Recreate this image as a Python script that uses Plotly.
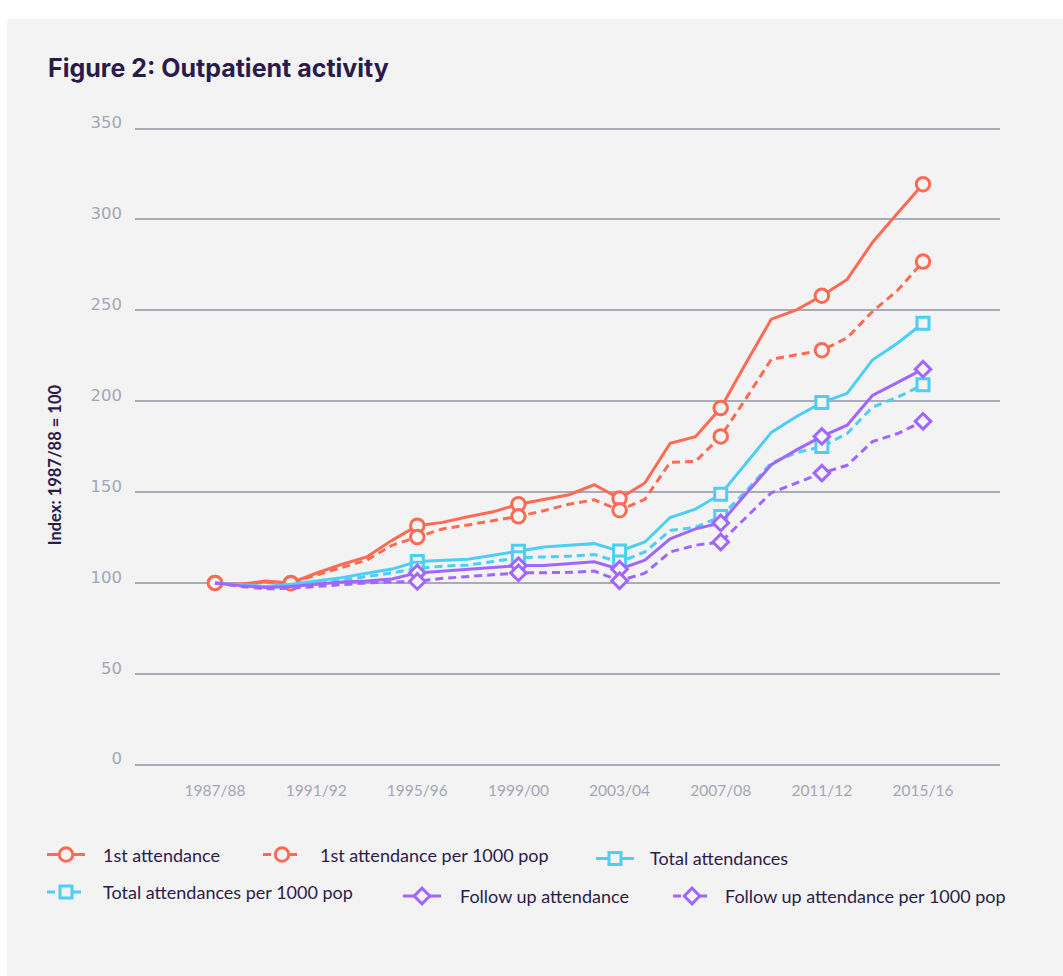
import plotly.graph_objects as go

# ---- data -------------------------------------------------------------
YEARS = [
    "1987/88", "1988/89", "1989/90", "1990/91", "1991/92", "1992/93",
    "1993/94", "1994/95", "1995/96", "1996/97", "1997/98", "1998/99",
    "1999/00", "2000/01", "2001/02", "2002/03", "2003/04", "2004/05",
    "2005/06", "2006/07", "2007/08", "2008/09", "2009/10", "2010/11",
    "2011/12", "2012/13", "2013/14", "2014/15", "2015/16",
]
TICK_YEARS = ["1987/88", "1991/92", "1995/96", "1999/00",
              "2003/04", "2007/08", "2011/12", "2015/16"]
# years that carry a symbol on the lines
RED_MARKED = ["1987/88", "1990/91", "1995/96", "1999/00",
              "2003/04", "2007/08", "2011/12", "2015/16"]
OTHER_MARKED = ["1995/96", "1999/00", "2003/04", "2007/08", "2011/12", "2015/16"]

first_att = [100, 99.2, 101.1, 100, 105.3, 110.1, 114.3, 123.4, 131.5, 133.3,
             136.4, 139.1, 143.3, 146, 148.5, 154, 146.4, 155, 176.8, 180.4,
             196.2, 221, 245.1, 250.2, 258, 267, 287.3, 303.5, 319.4]
first_att_pop = [100, 99, 100.5, 99.8, 104.3, 108.3, 112.5, 120.7, 125.2, 129.7,
                 131.9, 134.2, 136.6, 139.7, 143.3, 145.7, 140, 146, 166.3, 166.8,
                 180.6, 201.5, 223, 225.5, 228, 234.8, 249.3, 261, 276.8]
total_att = [100, 99, 98, 99.3, 101.1, 102.9, 105.3, 107.6, 111.8, 112.3,
             113, 115.2, 117.4, 119.7, 120.7, 121.6, 117.5, 122.5, 136, 140.6,
             148.8, 166, 182.8, 191.6, 199.2, 204.3, 222.6, 232, 242.9]
total_att_pop = [100, 98.5, 97.5, 98.5, 100, 101.5, 103.5, 105.5, 108, 109.2,
                 109.8, 111.6, 113.8, 114.3, 114.7, 115.6, 111.5, 117, 128.8, 130.6,
                 136.5, 150.5, 166, 171.7, 175, 182.2, 196.7, 202.2, 209]
follow_att = [100, 98.5, 97.5, 98, 99.3, 100.5, 101.1, 102.2, 105.5, 106.5,
              107.6, 108.9, 109.5, 109.6, 110.7, 111.6, 107.5, 112.5, 124.3, 129.7,
              133, 148.7, 165, 173.2, 180.6, 186.8, 203.1, 210.3, 217.6]
follow_att_pop = [100, 98, 96.7, 97.1, 98, 99, 100, 100.5, 100.8, 102.5,
                  103.4, 104.3, 105.5, 105.6, 105.8, 106.5, 101.2, 105.3, 117, 120.7,
                  122.5, 136, 149.6, 155, 160.4, 164.7, 177.7, 182.2, 188.9]

SERIES_NAMES = [
    "1st attendance", "1st attendance per 1000 pop", "Total attendances",
    "Total attendances per 1000 pop", "Follow up attendance",
    "Follow up attendance per 1000 pop",
]
SERIES_VALUES = [first_att, first_att_pop, total_att,
                 total_att_pop, follow_att, follow_att_pop]
SERIES_MARKED = [RED_MARKED, RED_MARKED, OTHER_MARKED,
                 OTHER_MARKED, OTHER_MARKED, OTHER_MARKED]
Y_TICKS = [0, 50, 100, 150, 200, 250, 300, 350]

# ---- styling ----------------------------------------------------------
W, H = 1063, 976
BG = "#f3f3f3"
MARKER_FILL = "#f4f4f4"
RED, BLUE, PURPLE = "#ff6a55", "#4dcff5", "#a066ff"
INK = "#2b1b4b"
GREY_TXT = "#a3a7b3"
GRID = "#a9acb8"
FONT = "Lato"
DASH = "8px,5px"

STYLES = [
    dict(color=RED, dash="solid", symbol="circle", size=13.5),
    dict(color=RED, dash=DASH, symbol="circle", size=13.5),
    dict(color=BLUE, dash="solid", symbol="square", size=12),
    dict(color=BLUE, dash=DASH, symbol="square", size=12),
    dict(color=PURPLE, dash="solid", symbol="diamond", size=12),
    dict(color=PURPLE, dash=DASH, symbol="diamond", size=12),
]


def fx(px):
    """page pixel column -> paper fraction"""
    return px / W


def fy(px):
    """page pixel row (from top) -> paper fraction"""
    return 1 - px / H


# plot area in pixels (margins are zero, so paper == page)
PLOT_L, PLOT_R = 135, 1000
Y0_PX, Y350_PX = 762, 118            # pixel rows of the 0 and 350 gridlines
PX_PER_UNIT = (Y0_PX - Y350_PX) / 350.0
Y_PAD = 2.0                          # keeps the edge gridlines drawable
Y_RANGE = [-Y_PAD, 350 + Y_PAD]
PLOT_T = Y350_PX - Y_PAD * PX_PER_UNIT
PLOT_B = Y0_PX + Y_PAD * PX_PER_UNIT
X_PER_YEAR = (923 - 215) / 28.0
X_RANGE = [-(215 - PLOT_L) / X_PER_YEAR, 28 + (PLOT_R - 923) / X_PER_YEAR]

# legend entries: (swatch left x, text left x, row centre y)
LEGEND_POS = [
    (47, 101, 853), (263, 318, 853), (596, 648, 857),
    (47, 101, 891), (403, 458, 895), (673, 723, 895),
]
SWATCH_LEN = 38


def marker_dict(st, fill=MARKER_FILL):
    return dict(symbol=st["symbol"], size=st["size"], color=fill,
                line=dict(color=st["color"], width=3))


fig = go.Figure()

for name, vals, st, marked in zip(SERIES_NAMES, SERIES_VALUES, STYLES,
                                  SERIES_MARKED):
    fig.add_trace(go.Scatter(
        x=YEARS, y=vals, mode="lines", name=name, showlegend=False,
        line=dict(color=st["color"], width=3, dash=st["dash"]),
        xaxis="x", yaxis="y", hoverinfo="skip",
    ))
    my = [vals[YEARS.index(yr)] for yr in marked]
    fig.add_trace(go.Scatter(
        x=marked, y=my, mode="markers", name=name, showlegend=False,
        marker=marker_dict(st), xaxis="x", yaxis="y",
    ))

# legend swatches drawn on a pixel-scaled overlay axis
annotations = []
for name, st, (sx, tx, ry) in zip(SERIES_NAMES, STYLES, LEGEND_POS):
    fig.add_trace(go.Scatter(
        x=[sx, sx + SWATCH_LEN], y=[ry, ry],
        mode="lines", showlegend=False, hoverinfo="skip",
        line=dict(color=st["color"], width=3, dash=st["dash"]),
        xaxis="x2", yaxis="y2",
    ))
    fig.add_trace(go.Scatter(
        x=[sx + SWATCH_LEN / 2], y=[ry], mode="markers", showlegend=False,
        hoverinfo="skip", marker=marker_dict(st, BG), xaxis="x2", yaxis="y2",
    ))
    annotations.append(dict(
        x=fx(tx), y=fy(ry), xref="paper", yref="paper",
        xanchor="left", yanchor="middle", showarrow=False, text=name,
        font=dict(family=FONT, size=18, color=INK),
    ))

annotations.append(dict(
    x=fx(46), y=fy(57), xref="paper", yref="paper",
    xanchor="left", yanchor="middle", showarrow=False,
    text="<b>Figure 2: Outpatient activity</b>",
    font=dict(family="Inter", size=25, color=INK),
))
annotations.append(dict(
    x=fx(55), y=fy(459), xref="paper", yref="paper",
    xanchor="center", yanchor="middle", showarrow=False, textangle=-90,
    text="<b>Index: 1987/88 = 100</b>",
    font=dict(family=FONT, size=16.5, color=INK),
))

fig.update_layout(
    width=W, height=H,
    margin=dict(l=0, r=0, t=0, b=0),
    paper_bgcolor="white",
    plot_bgcolor="rgba(0,0,0,0)",
    showlegend=False,
    annotations=annotations,
    shapes=[dict(type="rect", xref="paper", yref="paper",
                 x0=fx(7), x1=1, y0=0, y1=fy(7),
                 fillcolor=BG, line=dict(width=0), layer="below")],
    xaxis=dict(
        domain=[fx(PLOT_L), fx(PLOT_R)], range=X_RANGE, type="category",
        categoryorder="array", categoryarray=YEARS,
        tickmode="array", tickvals=TICK_YEARS, ticktext=TICK_YEARS,
        showgrid=False, zeroline=False, showline=False, ticks="",
        ticklabelstandoff=11,
        tickfont=dict(family=FONT, size=15.5, color=GREY_TXT),
        anchor="y",
    ),
    yaxis=dict(
        domain=[fy(PLOT_B), fy(PLOT_T)], range=Y_RANGE,
        tickmode="array", tickvals=Y_TICKS,
        showgrid=True, gridcolor=GRID, gridwidth=1.5,
        zeroline=False, showline=False, ticks="",
        ticklabelstandoff=12, ticklabelshift=-6,
        tickfont=dict(family="DejaVu Sans", size=16.5, color=GREY_TXT),
        anchor="x",
    ),
    xaxis2=dict(domain=[0, 1], range=[0, W], visible=False, anchor="y2",
                fixedrange=True),
    yaxis2=dict(domain=[0, 1], range=[H, 0], visible=False, anchor="x2",
                fixedrange=True),
)

fig.write_html("out.html")
